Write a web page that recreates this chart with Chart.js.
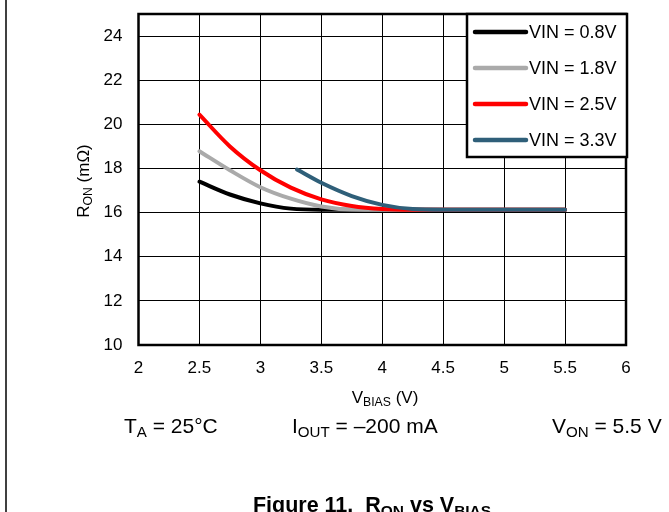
<!DOCTYPE html>
<html>
<head>
<meta charset="utf-8">
<script src="https://cdn.jsdelivr.net/npm/chart.js@4/dist/chart.umd.min.js"></script>
<style>
  body { margin: 0; background: #ffffff; }
  #wrap { width: 669px; height: 512px; }
</style>
</head>
<body>
<div id="wrap"><canvas id="ronChart" width="669" height="512"></canvas></div>
<script>
"use strict";

// series: R_ON (mOhm) against V_BIAS (V)
const vinLabels = ["VIN = 0.8V", "VIN = 1.8V", "VIN = 2.5V", "VIN = 3.3V"];
const lineColors = ["#000000", "#aaaaaa", "#ff0000", "#2f5f79"];

const vbias08 = [2.5, 2.75, 3.0, 3.25, 3.5, 4.0, 5.5];
const ron08 = [17.4, 16.82, 16.42, 16.18, 16.13, 16.13, 16.13];

const vbias18 = [2.5, 2.75, 3.0, 3.25, 3.5, 3.75, 4.0, 5.5];
const ron18 = [18.78, 17.92, 17.15, 16.63, 16.28, 16.14, 16.13, 16.13];

const vbias25 = [2.5, 2.75, 3.0, 3.25, 3.5, 3.75, 4.0, 4.25, 5.5];
const ron25 = [20.44, 19.0, 17.92, 17.13, 16.6, 16.3, 16.16, 16.13, 16.13];

const vbias33 = [3.3, 3.5, 3.75, 4.0, 4.25, 4.5, 5.5];
const ron33 = [17.95, 17.35, 16.75, 16.35, 16.16, 16.13, 16.13];

const xTicks = [2, 2.5, 3, 3.5, 4, 4.5, 5, 5.5, 6];
const yTicks = [10, 12, 14, 16, 18, 20, 22, 24];

const FONT = "'Liberation Sans', Arial, Helvetica, sans-serif";
Chart.defaults.font.family = FONT;
Chart.defaults.color = "#000000";

function toPoints(xs, ys) {
  let pts = [];
  for (let i = 0; i < xs.length; i++) {
    pts.push({ x: xs[i], y: ys[i] });
  }
  return pts;
}

const seriesX = [vbias08, vbias18, vbias25, vbias33];
const seriesY = [ron08, ron18, ron25, ron33];

let datasets = [];
for (let i = 0; i < vinLabels.length; i++) {
  datasets.push({
    label: vinLabels[i],
    data: toPoints(seriesX[i], seriesY[i]),
    borderColor: lineColors[i],
    backgroundColor: lineColors[i],
    borderWidth: 4,
    borderCapStyle: "round",
    borderJoinStyle: "round",
    pointRadius: 0,
    cubicInterpolationMode: "monotone",
    order: vinLabels.length - i,
  });
}

// draws text made of [string, isSubscript] parts, starting at x
function drawParts(ctx, parts, x, y, size, weight) {
  let cx = x;
  for (const p of parts) {
    const s = p[1] ? size * 0.72 : size;
    ctx.font = `${weight} ${s}px ${FONT}`;
    ctx.fillText(p[0], cx, p[1] ? y + size * 0.2 : y);
    cx += ctx.measureText(p[0]).width;
  }
  return cx - x;
}

function partsWidth(ctx, parts, size, weight) {
  let w = 0;
  for (const p of parts) {
    const s = p[1] ? size * 0.72 : size;
    ctx.font = `${weight} ${s}px ${FONT}`;
    w += ctx.measureText(p[0]).width;
  }
  return w;
}

const decorPlugin = {
  id: "decor",
  afterDatasetsDraw(chart) {
    const ctx = chart.ctx;
    const area = chart.chartArea;
    ctx.save();

    // plot frame
    ctx.strokeStyle = "#000000";
    ctx.lineWidth = 2.5;
    ctx.strokeRect(area.left, area.top, area.right - area.left, area.bottom - area.top);

    // legend box in the upper right corner
    const box = { x: 467, y: 14, w: 160, h: 143 };
    ctx.fillStyle = "#ffffff";
    ctx.fillRect(box.x, box.y, box.w, box.h);
    ctx.strokeRect(box.x, box.y, box.w, box.h);
    ctx.textBaseline = "middle";
    ctx.textAlign = "left";
    chart.data.datasets.forEach(function (ds, i) {
      const ly = 32 + i * 36;
      ctx.strokeStyle = ds.borderColor;
      ctx.lineWidth = 4.5;
      ctx.lineCap = "round";
      ctx.beginPath();
      ctx.moveTo(475, ly);
      ctx.lineTo(526, ly);
      ctx.stroke();
      ctx.fillStyle = "#000000";
      ctx.font = `18px ${FONT}`;
      ctx.fillText(ds.label, 529, ly + 1);
    });

    // page edge on the left
    ctx.strokeStyle = "#000000";
    ctx.lineWidth = 1.5;
    ctx.lineCap = "butt";
    ctx.beginPath();
    ctx.moveTo(6, 0);
    ctx.lineTo(6, 512);
    ctx.stroke();

    ctx.fillStyle = "#000000";
    ctx.textBaseline = "alphabetic";

    // x axis title
    const xTitle = [["V", false], ["BIAS", true], [" (V)", false]];
    const xw = partsWidth(ctx, xTitle, 17, "normal");
    drawParts(ctx, xTitle, 385 - xw / 2, 403, 17, "normal");

    // y axis title, rotated
    const yTitle = [["R", false], ["ON", true], [" (m\u03A9)", false]];
    ctx.save();
    ctx.translate(89, 181);
    ctx.rotate(-Math.PI / 2);
    const yw = partsWidth(ctx, yTitle, 17, "normal");
    drawParts(ctx, yTitle, -yw / 2, 0, 17, "normal");
    ctx.restore();

    // test conditions
    drawParts(ctx, [["T", false], ["A", true], [" = 25\u00B0C", false]], 124, 433, 21, "normal");
    drawParts(ctx, [["I", false], ["OUT", true], [" = \u2013200 mA", false]], 292, 433, 21, "normal");
    drawParts(ctx, [["V", false], ["ON", true], [" = 5.5 V", false]], 552, 433, 21, "normal");

    // figure caption
    const cap = [["Figure 11.  R", false], ["ON", true], [" vs V", false], ["BIAS", true]];
    const cw = partsWidth(ctx, cap, 21.5, "bold");
    drawParts(ctx, cap, 372 - cw / 2, 512, 21.5, "bold");

    ctx.restore();
  },
};

const config = {
  type: "line",
  data: { datasets: datasets },
  options: {
    responsive: false,
    animation: false,
    layout: {
      padding: { left: 0, top: 14, right: 43, bottom: 0 },
    },
    plugins: {
      legend: { display: false },
      tooltip: { enabled: false },
      title: { display: false },
    },
    scales: {
      x: {
        type: "linear",
        min: 2,
        max: 6,
        afterBuildTicks: function (scale) {
          scale.ticks = xTicks.map(function (v) { return { value: v }; });
        },
        afterFit: function (scale) {
          scale.height = 167;
        },
        grid: { color: "#000000", lineWidth: 1, drawTicks: false },
        border: { display: false },
        ticks: {
          font: { size: 17 },
          padding: 13,
          maxRotation: 0,
          callback: function (value) { return String(value); },
        },
      },
      y: {
        type: "linear",
        min: 10,
        max: 25,
        afterBuildTicks: function (scale) {
          scale.ticks = yTicks.map(function (v) { return { value: v }; });
        },
        afterFit: function (scale) {
          scale.width = 138.5;
          scale.paddingTop = 0;
          scale.paddingBottom = 0;
        },
        grid: { color: "#000000", lineWidth: 1, drawTicks: false },
        border: { display: false },
        ticks: {
          font: { size: 17 },
          padding: 16,
          callback: function (value) { return String(value); },
        },
      },
    },
  },
  plugins: [decorPlugin],
};

const ronChart = new Chart(document.getElementById("ronChart"), config);
</script>
</body>
</html>
